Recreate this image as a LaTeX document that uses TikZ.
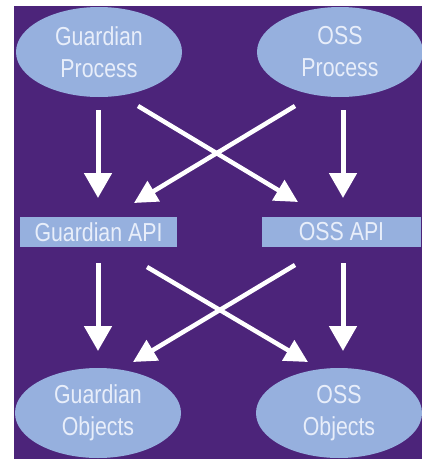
\documentclass[tikz,border=0pt]{standalone}
\usepackage{fontspec}
\newfontfamily\diagfont[FakeStretch=0.82]{Liberation Sans}
\usetikzlibrary{shapes.geometric,arrows.meta}
\definecolor{bgpurple}{RGB}{76,36,122}
\definecolor{nodeblue}{RGB}{150,176,222}
\definecolor{txtwhite}{RGB}{232,238,250}
\begin{document}
\begin{tikzpicture}[x=1pt,y=-1pt,
  oval/.style={ellipse, fill=nodeblue, minimum width=166pt, minimum height=90pt, inner sep=0pt, align=center, text=txtwhite, font=\diagfont\fontsize{26}{32}\selectfont},
  apibox/.style={rectangle, fill=nodeblue, minimum height=30pt, inner sep=0pt, text=txtwhite, font=\diagfont\fontsize{26}{32}\selectfont},
  flow/.style={draw=white, line width=5pt, -{Triangle[width=27pt,length=25pt]}},
  crossflow/.style={draw=white, line width=4.5pt, -{Triangle[width=23pt,length=23pt]}}]
\useasboundingbox (0,0) rectangle (422,463);
\fill[white] (0,0) rectangle (422,463);
\fill[bgpurple] (14,6) rectangle (422,459);
% nodes
\node[oval] (gp) at (99,52) {Guardian\\Process};
\node[oval] (op) at (340,52) {OSS\\Process};
\node[apibox, minimum width=157pt] (ga) at (98.5,232) {Guardian API};
\node[apibox, minimum width=159pt] (oa) at (341.5,232) {OSS API};
\node[oval] (go) at (98,413) {Guardian\\Objects};
\node[oval] (oo) at (339,413) {OSS\\Objects};
% coordinates for arrow ends
\coordinate (a1s) at (98,110);  \coordinate (a1e) at (98,198);
\coordinate (a2s) at (343,110); \coordinate (a2e) at (343,198);
\coordinate (d1s) at (138,106); \coordinate (d1e) at (298,202);
\coordinate (d2s) at (295,106); \coordinate (d2e) at (134,203);
\coordinate (b1s) at (98,263);  \coordinate (b1e) at (98,351);
\coordinate (b2s) at (343,263); \coordinate (b2e) at (343,351);
\coordinate (e1s) at (147,267); \coordinate (e1e) at (308,362);
\coordinate (e2s) at (295,265); \coordinate (e2e) at (133,362);
% connectors
\draw[flow] (a1s) -- (a1e);
\draw[flow] (a2s) -- (a2e);
\draw[crossflow] (d1s) -- (d1e);
\draw[crossflow] (d2s) -- (d2e);
\draw[flow] (b1s) -- (b1e);
\draw[flow] (b2s) -- (b2e);
\draw[crossflow] (e1s) -- (e1e);
\draw[crossflow] (e2s) -- (e2e);
\end{tikzpicture}
\end{document}
